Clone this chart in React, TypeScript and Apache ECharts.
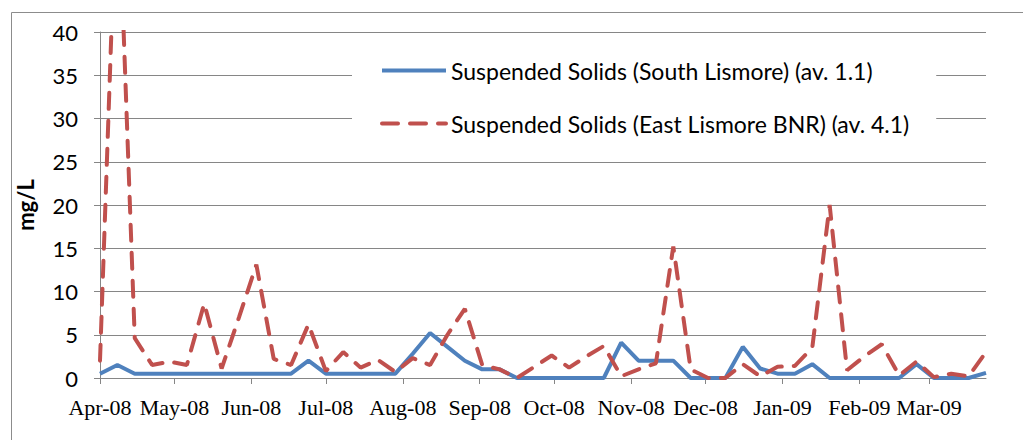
import React, { useEffect, useRef } from "react";
import * as echarts from "echarts";

const sampleDates: string[] = [
  "2008-04-01", "2008-04-08", "2008-04-15", "2008-04-22", "2008-04-29",
  "2008-05-06", "2008-05-13", "2008-05-20", "2008-05-27",
  "2008-06-03", "2008-06-10", "2008-06-17", "2008-06-24",
  "2008-07-01", "2008-07-08", "2008-07-15", "2008-07-22", "2008-07-29",
  "2008-08-05", "2008-08-12", "2008-08-19", "2008-08-26",
  "2008-09-02", "2008-09-09", "2008-09-16", "2008-09-23", "2008-09-30",
  "2008-10-07", "2008-10-14", "2008-10-21", "2008-10-28",
  "2008-11-04", "2008-11-11", "2008-11-18", "2008-11-25",
  "2008-12-02", "2008-12-09", "2008-12-16", "2008-12-23", "2008-12-30",
  "2009-01-06", "2009-01-13", "2009-01-20", "2009-01-27",
  "2009-02-03", "2009-02-10", "2009-02-17", "2009-02-24",
  "2009-03-03", "2009-03-10", "2009-03-17", "2009-03-24",
];

const southLismore: number[] = [
  0.5, 1.5, 0.5, 0.5, 0.5, 0.5, 0.5, 0.5, 0.5, 0.5,
  0.5, 0.5, 2.0, 0.5, 0.5, 0.5, 0.5, 0.5, 2.8, 5.2,
  3.6, 2.0, 1.0, 1.0, 0, 0, 0, 0, 0, 0,
  4.1, 2.0, 2.0, 2.0, 0, 0, 0, 3.6, 1.1, 0.5,
  0.5, 1.6, 0, 0, 0, 0, 0, 1.6, 0, 0,
  0, 0.6,
];

const eastLismoreBNR: number[] = [
  2.0, 60, 4.6, 1.5, 1.9, 1.5, 8.6, 1.1, 7.0, 13.1,
  2.2, 1.5, 6.2, 0.8, 3.0, 1.2, 2.1, 0.7, 2.3, 1.5,
  5.0, 8.0, 1.5, 1.0, 0, 1.3, 2.6, 1.2, 2.5, 3.7,
  0.2, 1.0, 1.7, 15.2, 1.0, 0, 0, 1.6, 0.2, 1.3,
  1.4, 3.5, 20, 0.9, 2.5, 3.9, 0.3, 1.9, 0.1, 0.5,
  0.2, 3.0,
];

const seriesNames = [
  "Suspended Solids (South Lismore) (av. 1.1)",
  "Suspended Solids (East Lismore BNR) (av. 4.1)",
];

const monthNames = ["Jan", "Feb", "Mar", "Apr", "May", "Jun", "Jul", "Aug", "Sep", "Oct", "Nov", "Dec"];

const yMin = 0;
const yMax = 40;
const yStep = 5;

function toTime(s: string): number {
  const [y, m, d] = s.split("-").map(Number);
  return new Date(y, m - 1, d).getTime();
}

export default function App() {
  const ref = useRef<HTMLDivElement>(null);

  useEffect(() => {
    if (!ref.current) return;
    const chart = echarts.init(ref.current, undefined, { renderer: "svg" });
    const times = sampleDates.map(toTime);
    const DAY = 24 * 3600 * 1000;
    const option: any = {
      animation: false,
      backgroundColor: "#fff",
      graphic: [
        {
          type: "rect",
          left: 9,
          top: 10,
          shape: { width: 1040, height: 460 },
          style: { fill: "none", stroke: "#8c8c8c", lineWidth: 1 },
          silent: true,
        },
      ],
      grid: {
        left: 100,
        right: 37,
        top: 32,
        bottom: 62,
        outerBoundsMode: "none",
      },
      legend: {
        orient: "vertical",
        left: 352,
        top: 39,
        padding: [20, 27, 20, 28],
        backgroundColor: "#fff",
        itemWidth: 64,
        itemHeight: 24,
        itemGap: 30,
        itemStyle: { opacity: 0 },
        lineStyle: { width: 4 },
        textStyle: { fontFamily: "Lato", fontSize: 23, color: "#000" },
        data: seriesNames,
      },
      xAxis: {
        type: "time",
        min: times[0],
        max: times[times.length - 1],
        minInterval: 28 * DAY,
        maxInterval: 31 * DAY,
        axisLine: { show: true, lineStyle: { color: "#868686", width: 1 } },
        axisTick: { show: true, length: 6, lineStyle: { color: "#868686" } },
        splitLine: { show: false },
        axisLabel: {
          fontFamily: "Liberation Serif",
          fontSize: 22,
          color: "#000",
          margin: 18,
          showMinLabel: true,
          showMaxLabel: false,
          formatter: (val: number) => {
            const d = new Date(val);
            return monthNames[d.getMonth()] + "-" + String(d.getFullYear() % 100).padStart(2, "0");
          },
        },
      },
      yAxis: {
        type: "value",
        min: yMin,
        max: yMax,
        interval: yStep,
        name: "mg/L",
        nameLocation: "middle",
        nameRotate: 90,
        nameGap: 64,
        nameTextStyle: { fontFamily: "Lato", fontSize: 22, fontWeight: "bold", color: "#000" },
        axisLine: { show: true, lineStyle: { color: "#868686", width: 1 } },
        axisTick: { show: true, length: 6, lineStyle: { color: "#868686" } },
        splitLine: { show: true, lineStyle: { color: "#868686", width: 1 } },
        axisLabel: { fontFamily: "Lato", fontSize: 22, color: "#000", margin: 22 },
      },
      series: [
        {
          name: seriesNames[0],
          type: "line",
          data: times.map((t, i) => [t, southLismore[i]]),
          symbol: "none",
          lineStyle: { color: "#4F81BD", width: 4, type: "solid" },
          itemStyle: { color: "#4F81BD" },
          clip: true,
        },
        {
          name: seriesNames[1],
          type: "line",
          data: times.map((t, i) => [t, eastLismoreBNR[i]]),
          symbol: "none",
          lineStyle: { color: "#C0504D", width: 4, type: [16, 12], cap: "round" },
          itemStyle: { color: "#C0504D" },
          clip: true,
        },
      ],
    };
    chart.setOption(option);
    return () => chart.dispose();
  }, []);

  return (
    <div
      ref={ref}
      style={{ position: "fixed", left: 0, top: 0, width: 1023, height: 440 }}
    />
  );
}
